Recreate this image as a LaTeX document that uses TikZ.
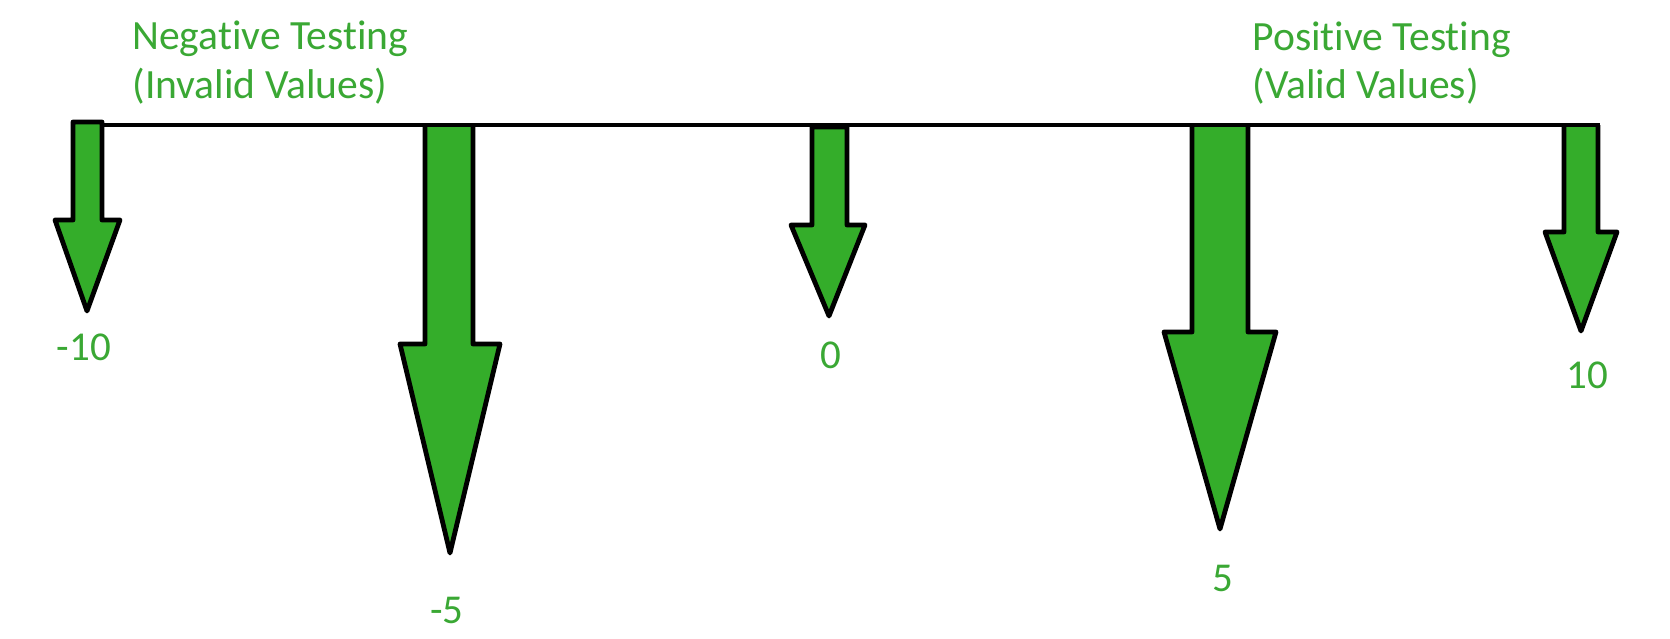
\documentclass[tikz,border=0pt]{standalone}
\usepackage{fontspec}
\setmainfont{Carlito}[Ligatures=NoCommon]
\definecolor{arrowgreen}{RGB}{52,173,42}
\definecolor{textgreen}{RGB}{58,168,52}

\begin{document}
\begin{tikzpicture}[x=0.5pt,y=-0.5pt,
  bigarrow/.style={draw,line width=2.4pt,line join=round,fill=arrowgreen},
  value/.style={text=textgreen,inner sep=0pt,font=\fontsize{20.5pt}{25pt}\selectfont},
  heading/.style={text=textgreen,inner sep=0pt,anchor=base west,font=\fontsize{20.8pt}{25pt}\selectfont}]
\useasboundingbox (0,0) rectangle (1670,638);

\node[heading] (neg1) at (132,49) {Negative Testing};
\node[heading] (neg2) at (132,98) {(Invalid Values)};
\node[heading] (pos1) at (1252,50) {Positive Testing};
\node[heading] (pos2) at (1252,98) {(Valid Values)};

\draw[bigarrow] (73,122) -- (73,220) -- (55,220) -- (87,311) -- (120,220) -- (102,220) -- (102,122) -- cycle;
\draw[bigarrow] (425,125) -- (425,344) -- (400,344) -- (450,553) -- (500,344) -- (473,344) -- (473,125);
\draw[bigarrow] (812,127) -- (812,225) -- (791,225) -- (829,316) -- (865,225) -- (847,225) -- (847,127) -- cycle;
\draw[bigarrow] (1192,125) -- (1192,332) -- (1164,332) -- (1220,529) -- (1276,332) -- (1248,332) -- (1248,125);
\draw[bigarrow] (1564,125) -- (1564,232) -- (1545,232) -- (1581,331) -- (1617,232) -- (1598,232) -- (1598,125);

\draw[line width=2.2pt] (102,125) -- (1600,125);

\node[value] (m10) at (84,347) {-10};
\node[value] (m5) at (447,610) {-5};
\node[value] (z) at (831,355) {0};
\node[value] (p5) at (1223,578) {5};
\node[value] (p10) at (1587,375) {10};
\end{tikzpicture}
\end{document}
